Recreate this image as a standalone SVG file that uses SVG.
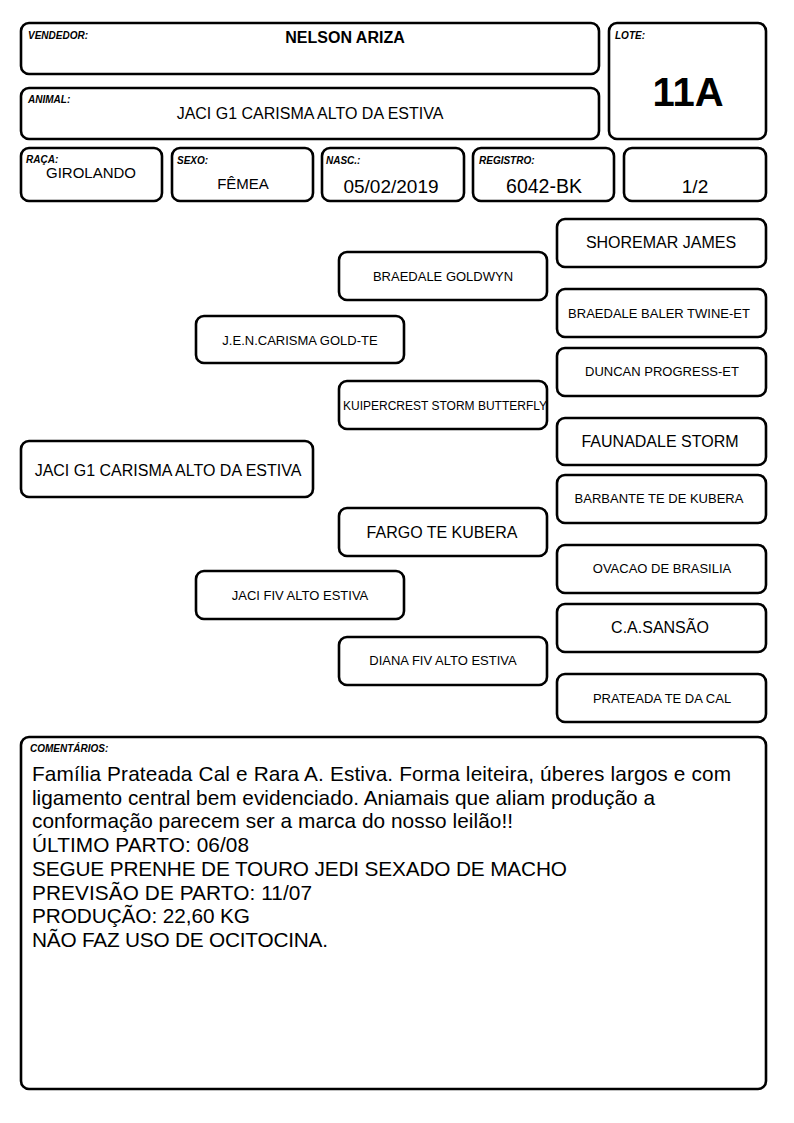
<svg xmlns="http://www.w3.org/2000/svg" width="794" height="1123" viewBox="0 0 794 1123">
<style>
  .box{fill:#fff;stroke:#000;stroke-width:2.6}
  text{font-family:"Liberation Sans",Arial,sans-serif;fill:#000}
  .lbl{font-size:10px;font-weight:bold;font-style:italic}
  .c{text-anchor:middle}
  .big{font-size:16px}
  .med{font-size:13px}
  .sm{font-size:12px}
  .cm{font-size:20.8px}
</style>
<rect width="794" height="1123" fill="#fff"/>
<g id="header">
  <g id="vendedor"><rect class="box" x="21" y="23" width="578" height="51" rx="8"/><text class="lbl" x="28" y="39">VENDEDOR:</text><text class="c" x="345" y="43" style="font-size:16px;font-weight:bold">NELSON ARIZA</text></g>
  <g id="animal"><rect class="box" x="21" y="88" width="578" height="51" rx="8"/><text class="lbl" x="28" y="103">ANIMAL:</text><text class="c" x="310" y="119" style="font-size:16px">JACI G1 CARISMA ALTO DA ESTIVA</text></g>
  <g id="lote"><rect class="box" x="609" y="23" width="157" height="116" rx="8"/><text class="lbl" x="615" y="39">LOTE:</text><text class="c" x="688" y="106" style="font-size:40px;font-weight:bold">11A</text></g>
  <g id="raca"><rect class="box" x="21" y="148" width="141" height="53" rx="8"/><text class="lbl" x="26" y="163">RAÇA:</text><text class="c" x="91" y="178" style="font-size:15px">GIROLANDO</text></g>
  <g id="sexo"><rect class="box" x="172" y="148" width="141" height="53" rx="8"/><text class="lbl" x="177" y="164">SEXO:</text><text class="c" x="243" y="189" style="font-size:15px">FÊMEA</text></g>
  <g id="nasc"><rect class="box" x="322" y="148" width="142" height="53" rx="8"/><text class="lbl" x="326" y="164">NASC.:</text><text class="c" x="391" y="193" style="font-size:19px">05/02/2019</text></g>
  <g id="registro"><rect class="box" x="473" y="148" width="141" height="53" rx="8"/><text class="lbl" x="479" y="164">REGISTRO:</text><text class="c" x="544" y="193" style="font-size:19.5px">6042-BK</text></g>
  <g id="fracao"><rect class="box" x="624" y="148" width="142" height="53" rx="8"/><text class="c" x="695" y="193" style="font-size:19px">1/2</text></g>
</g>
<g id="connectors"></g>
<g id="pedigree">
  <g id="n-animal"><rect class="box" x="21" y="441" width="292" height="56" rx="8"/><text class="c big" x="168" y="476">JACI G1 CARISMA ALTO DA ESTIVA</text></g>
  <g id="n-pai"><rect class="box" x="196" y="316" width="208" height="47" rx="8"/><text class="c med" x="300" y="345">J.E.N.CARISMA GOLD-TE</text></g>
  <g id="n-mae"><rect class="box" x="196" y="571" width="208" height="48" rx="8"/><text class="c med" x="300" y="600">JACI FIV ALTO ESTIVA</text></g>
  <g id="n-avo1"><rect class="box" x="339" y="252" width="208" height="48" rx="8"/><text class="c med" x="443" y="281">BRAEDALE GOLDWYN</text></g>
  <g id="n-avo2"><rect class="box" x="339" y="381" width="208" height="48" rx="8"/><text class="c sm" x="445" y="410">KUIPERCREST STORM BUTTERFLY</text></g>
  <g id="n-avo3"><rect class="box" x="339" y="508" width="208" height="48" rx="8"/><text class="c big" x="442" y="538">FARGO TE KUBERA</text></g>
  <g id="n-avo4"><rect class="box" x="339" y="637" width="208" height="48" rx="8"/><text class="c med" x="443" y="665">DIANA FIV ALTO ESTIVA</text></g>
  <g id="n-b1"><rect class="box" x="557" y="219" width="209" height="48" rx="8"/><text class="c big" x="661" y="248">SHOREMAR JAMES</text></g>
  <g id="n-b2"><rect class="box" x="557" y="289" width="209" height="48" rx="8"/><text class="c med" x="659" y="318">BRAEDALE BALER TWINE-ET</text></g>
  <g id="n-b3"><rect class="box" x="557" y="348" width="209" height="48" rx="8"/><text class="c med" x="662" y="376">DUNCAN PROGRESS-ET</text></g>
  <g id="n-b4"><rect class="box" x="557" y="418" width="209" height="47" rx="8"/><text class="c big" x="660" y="447">FAUNADALE STORM</text></g>
  <g id="n-b5"><rect class="box" x="557" y="475" width="209" height="48" rx="8"/><text class="c med" x="659" y="503">BARBANTE TE DE KUBERA</text></g>
  <g id="n-b6"><rect class="box" x="557" y="545" width="209" height="48" rx="8"/><text class="c med" x="662" y="573">OVACAO DE BRASILIA</text></g>
  <g id="n-b7"><rect class="box" x="557" y="604" width="209" height="48" rx="8"/><text class="c big" x="660" y="633">C.A.SANSÃO</text></g>
  <g id="n-b8"><rect class="box" x="557" y="674" width="209" height="48" rx="8"/><text class="c med" x="662" y="703">PRATEADA TE DA CAL</text></g>
</g>
<g id="comentarios">
  <rect class="box" x="21" y="737" width="745" height="352" rx="8"/>
  <text class="lbl" x="30" y="752">COMENTÁRIOS:</text>
  <text class="cm" x="32" y="781" textLength="699" lengthAdjust="spacing">Família Prateada Cal e Rara A. Estiva. Forma leiteira, úberes largos e com</text>
  <text class="cm" x="32" y="805" textLength="623" lengthAdjust="spacing">ligamento central bem evidenciado. Aniamais que aliam produção a</text>
  <text class="cm" x="32" y="828" textLength="481" lengthAdjust="spacing">conformação parecem ser a marca do nosso leilão!!</text>
  <text class="cm" x="32" y="852" textLength="217" lengthAdjust="spacing">ÚLTIMO PARTO: 06/08</text>
  <text class="cm" x="32" y="876" textLength="535" lengthAdjust="spacing">SEGUE PRENHE DE TOURO JEDI SEXADO DE MACHO</text>
  <text class="cm" x="32" y="900" textLength="280" lengthAdjust="spacing">PREVISÃO DE PARTO: 11/07</text>
  <text class="cm" x="32" y="923" textLength="218" lengthAdjust="spacing">PRODUÇÃO: 22,60 KG</text>
  <text class="cm" x="32" y="947" textLength="296" lengthAdjust="spacing">NÃO FAZ USO DE OCITOCINA.</text>
</g>
</svg>
